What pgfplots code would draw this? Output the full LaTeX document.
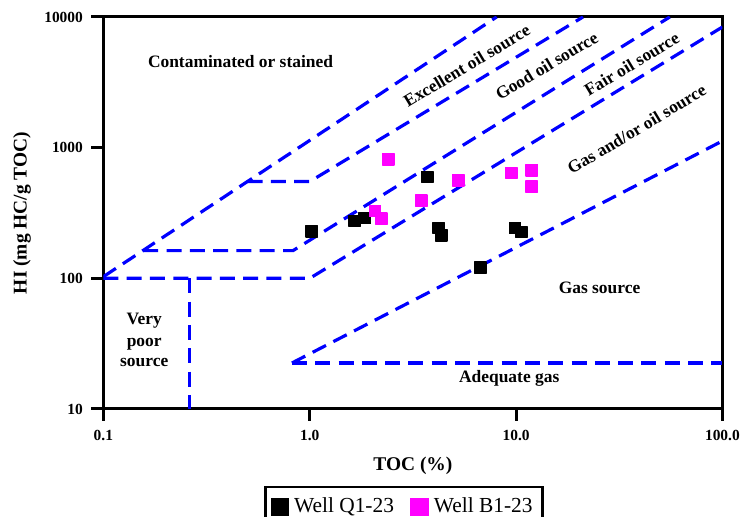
\documentclass[border=0pt]{standalone}
\usepackage{fontspec}
\setmainfont{Liberation Serif}
\usepackage{pgfplots}
\pgfplotsset{compat=1.18}

\definecolor{zoneblue}{RGB}{0,0,255}
\definecolor{wellb}{RGB}{255,0,255}

\begin{document}
\begin{tikzpicture}[
  zone/.style={draw=zoneblue, line width=3.2bp, dash pattern=on 15bp off 8.3bp},
  lab/.style={font=\fontsize{17.5}{21}\selectfont\bfseries, inner sep=0pt},
]
\begin{axis}[
  scale only axis,
  width=619bp, height=392bp,
  xmode=log, ymode=log,
  xmin=0.1, xmax=100, ymin=10, ymax=10000,
  xtick={0.1,1,10,100},
  xticklabels={\textbf{0.1},\textbf{1.0},\textbf{10.0},\textbf{100.0}},
  ytick={10,100,1000,10000},
  yticklabels={\textbf{10},\textbf{100},\textbf{1000},\textbf{10000}},
  xminorticks=false, yminorticks=false,
  tick pos=left,
  tick align=outside,
  major tick length=12bp,
  tick style={black, line width=3bp},
  axis line style={line width=3bp},
  tick label style={font=\fontsize{15.5}{18}\selectfont},
  xticklabel style={yshift=-5.5bp},
  yticklabel style={xshift=-5bp},
  xlabel={\textbf{TOC (\%)}},
  ylabel={\textbf{HI (mg HC/g TOC)}},
  label style={font=\fontsize{19.5}{23}\selectfont},
  xlabel style={at={(axis description cs:0.5,-0.1449)}, anchor=center},
  ylabel style={at={(axis description cs:-0.1315,0.5)}, anchor=center},
  legend style={
    at={(axis description cs:0.5,0)}, anchor=north, xshift=-8.9bp, yshift=-76.8bp,
    draw=black, line width=2.5bp, fill=white,
    font=\fontsize{21.5}{25}\selectfont,
    legend columns=2,
    inner xsep=5bp, inner ysep=9bp,
    nodes={inner xsep=4.8bp, inner ysep=2bp},
    /tikz/every even column/.append style={column sep=11.5bp},
  },
  legend image code/.code={\fill[#1] (0bp,-8.4bp) rectangle (16.2bp,6.6bp);},
]

% source-rock quality boundaries
\addplot[zone, forget plot] coordinates {(0.1,103) (8.05,10000)};
\addplot[zone, forget plot] coordinates {(0.5,550) (1.0,550) (21.1,10000)};
\addplot[zone, forget plot] coordinates {(0.156,163) (0.83,163) (55.6,10000)};
\addplot[zone, forget plot] coordinates {(0.1,100) (1.0,100) (100,8380)};
\addplot[zone, forget plot] coordinates {(0.82,22.5) (100,1125)};
\addplot[zone, forget plot] coordinates {(0.82,22.5) (100,22.5)};
\addplot[zone, forget plot] coordinates {(0.261,100) (0.261,10)};

% samples
\addplot[only marks, color=black, mark=square*, mark size=5.7bp,
  mark options={draw=black, fill=black, line width=1.4bp, line join=round}]
  coordinates {(1.02,229) (1.65,275) (1.85,290) (3.72,596) (4.22,243)
               (4.35,214) (9.89,243) (10.62,226) (6.72,121)};
\addlegendentry{Well Q1-23}
\addplot[only marks, color=wellb, mark=square*, mark size=5.7bp,
  mark options={draw=wellb, fill=wellb, line width=1.4bp, line join=round}]
  coordinates {(2.40,813) (2.07,328) (2.22,287) (3.47,394) (5.26,564)
               (9.50,641) (11.92,673) (11.92,502)};
\addlegendentry{Well B1-23}

% zone names
\node[lab, anchor=base] at (rel axis cs:0.2215,0.8707) {Contaminated or stained};
\node[lab, rotate=31] at (rel axis cs:0.5869,0.8755) {Excellent oil source};
\node[lab, rotate=31] at (rel axis cs:0.7161,0.8755) {Good oil source};
\node[lab, rotate=31] at (rel axis cs:0.8535,0.8796) {Fair oil source};
\node[lab, rotate=31] at (rel axis cs:0.8615,0.7138) {Gas and/or oil source};
\node[lab, anchor=base] at (rel axis cs:0.8015,0.2952) {Gas source};
\node[lab, anchor=base] at (rel axis cs:0.6556,0.0671) {Adequate gas};
\node[lab, anchor=base] at (rel axis cs:0.0659,0.2143) {Very};
\node[lab, anchor=base] at (rel axis cs:0.0659,0.1589) {poor};
\node[lab, anchor=base] at (rel axis cs:0.0659,0.1079) {source};
\end{axis}
\pgfresetboundingbox
\path[use as bounding box] ([xshift=-103.4bp,yshift=-108bp]current axis.south west) rectangle ++(742bp,517bp);
\end{tikzpicture}
\end{document}
